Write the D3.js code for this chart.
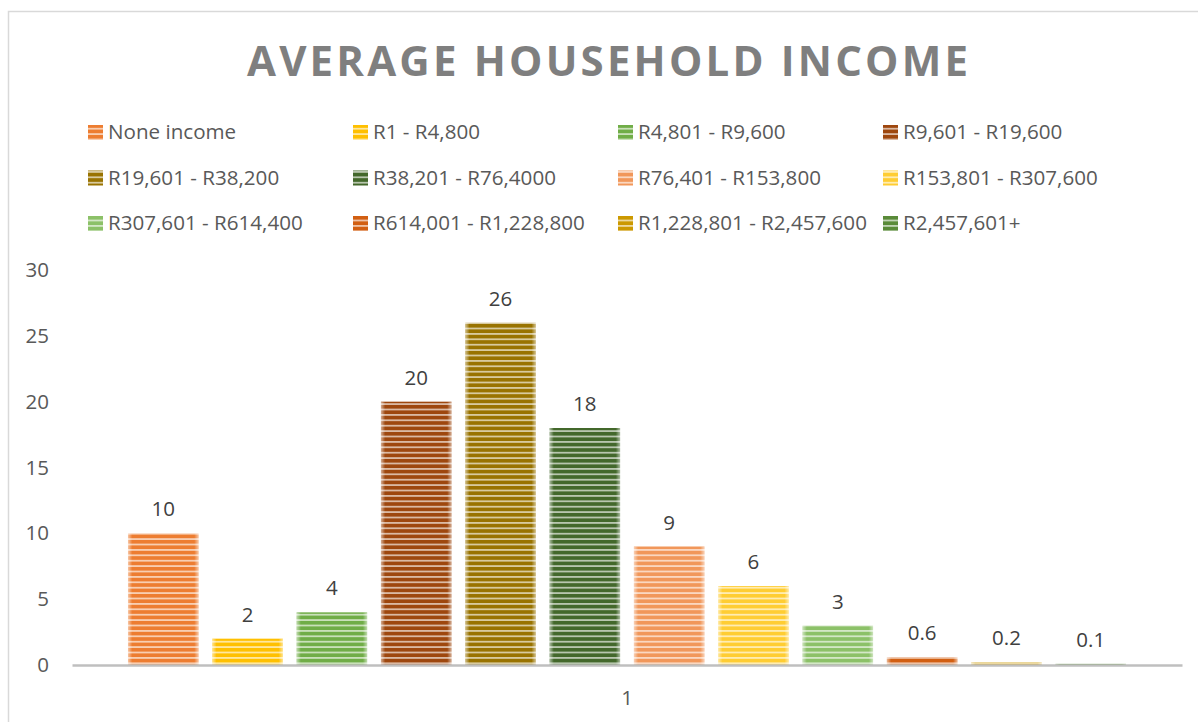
<!DOCTYPE html>
<html>
<head>
<meta charset="utf-8">
<script src="https://cdn.jsdelivr.net/npm/d3@7"></script>
<style>
  html, body { margin: 0; padding: 0; background: #fff; }
  svg { display: block; font-family: "Open Sans", sans-serif; }
</style>
</head>
<body>
<svg id="chart" width="1198" height="722"></svg>
<script>
const title = "AVERAGE HOUSEHOLD INCOME";
const categories = ["1"];
const seriesNames = [
  "None income", "R1 - R4,800", "R4,801 - R9,600", "R9,601 - R19,600",
  "R19,601 - R38,200", "R38,201 - R76,4000", "R76,401 - R153,800", "R153,801 - R307,600",
  "R307,601 - R614,400", "R614,001 - R1,228,800", "R1,228,801 - R2,457,600", "R2,457,601+"
];
const seriesValues = [10, 2, 4, 20, 26, 18, 9, 6, 3, 0.6, 0.2, 0.1];
const seriesColors = [
  "#ED7D31", "#FFC000", "#70AD47",
  "#9E470E", "#997300", "#43682B",
  "#F1975A", "#FFCD33", "#8CC168",
  "#D25F12", "#CC9900", "#5A8B39"
];
const yTicks = [0, 5, 10, 15, 20, 25, 30];

const svg = d3.select("#chart");
const defs = svg.append("defs");

// chart frame (left & top edges visible)
svg.append("rect")
  .attr("x", 8.5).attr("y", 11.5).attr("width", 1300).attr("height", 800)
  .attr("fill", "none").attr("stroke", "#d9d9d9").attr("stroke-width", 1.5);

// striped patterns
seriesColors.forEach((c, i) => {
  const light = d3.interpolateRgb(c, "#ffffff")(0.62);
  const p = defs.append("pattern")
    .attr("id", "pat" + i)
    .attr("patternUnits", "userSpaceOnUse")
    .attr("width", 8).attr("height", 5.4);
  p.append("rect").attr("width", 8).attr("height", 5.4).attr("fill", c);
  p.append("rect").attr("y", 3.6).attr("width", 8).attr("height", 1.8).attr("fill", light);
});
// edge glow
const g = defs.append("linearGradient").attr("id", "glow")
  .attr("x1", 0).attr("x2", 1).attr("y1", 0).attr("y2", 0);
[[0, 0.55], [0.06, 0.0], [0.94, 0.0], [1, 0.55]].forEach(([o, a]) =>
  g.append("stop").attr("offset", o).attr("stop-color", "#fff").attr("stop-opacity", a));

// title
svg.append("text")
  .attr("x", 247).attr("y", 76)
  .attr("textLength", 721).attr("lengthAdjust", "spacing")
  .attr("fill", "#7f7f7f").attr("font-weight", 700).attr("font-size", 42)
  .text(title);

// legend
const legCols = 4, legX0 = 88, legDX = 265, legY0 = 139, legDY = 45.5;
const leg = svg.append("g");
seriesNames.forEach((name, i) => {
  const col = i % legCols, row = Math.floor(i / legCols);
  const lx = legX0 + col * legDX, ly = legY0 + row * legDY;
  leg.append("rect").attr("x", lx).attr("y", ly - 14).attr("width", 15).attr("height", 15)
    .attr("fill", `url(#pat${i})`);
  leg.append("text").attr("x", lx + 20).attr("y", ly)
    .attr("font-size", 20.6).attr("fill", "#595959").text(name);
});

// scales
const plotLeft = 72, plotRight = 1182, y0 = 665, yTop = 270;
const y = d3.scaleLinear().domain([0, 30]).range([y0, yTop]);
const x0 = d3.scaleBand().domain(categories).range([plotLeft, plotRight])
  .paddingInner(0).paddingOuter(0.0485);
const x1 = d3.scaleBand().domain(seriesNames).range([0, x0.bandwidth()])
  .paddingInner(0.164).paddingOuter(0.082);

// y axis labels
const yAxis = d3.axisLeft(y).tickValues(yTicks).tickSize(0).tickPadding(0);
const ya = svg.append("g").attr("transform", "translate(49,0)").call(yAxis);
ya.select(".domain").remove();
ya.selectAll("text").attr("font-size", 20.5).attr("fill", "#595959")
  .attr("font-family", "Open Sans, sans-serif");

// bars
const cat = categories[0];
const bars = svg.append("g").attr("transform", `translate(${x0(cat)},0)`);
seriesNames.forEach((name, i) => {
  const v = seriesValues[i];
  const bx = x1(name), bw = x1.bandwidth();
  const by = y(v), bh = y(0) - y(v);
  bars.append("rect").attr("x", bx).attr("y", by).attr("width", bw).attr("height", bh)
    .attr("fill", `url(#pat${i})`);
  bars.append("rect").attr("x", bx).attr("y", by).attr("width", bw).attr("height", bh)
    .attr("fill", "url(#glow)");
  bars.append("text").attr("x", bx + bw / 2).attr("y", by - 17)
    .attr("text-anchor", "middle").attr("font-size", 20.5).attr("fill", "#404040")
    .text(String(v));
});

// x axis
const xAxis = d3.axisBottom(x0).tickSize(0).tickPadding(0);
const xa = svg.append("g").attr("transform", `translate(0,${y0})`).call(xAxis);
xa.select(".domain").attr("stroke", "#bfbfbf").attr("stroke-width", 2.5);
xa.selectAll("text").attr("font-size", 20.5).attr("fill", "#595959")
  .attr("font-family", "Open Sans, sans-serif").attr("dy", "1.95em");
</script>
</body>
</html>
